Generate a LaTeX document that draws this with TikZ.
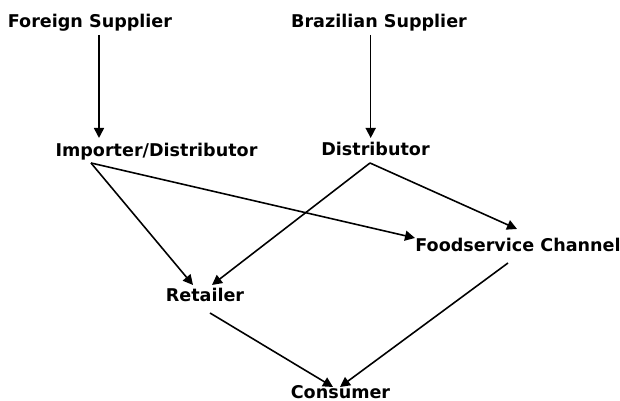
\documentclass[tikz,border=0pt]{standalone}
\usepackage{fontspec}
\setmainfont{DejaVu Sans}
\usetikzlibrary{arrows.meta}

\begin{document}
\begin{tikzpicture}[
    x=0.02cm, y=-0.02cm,
    actor/.style={inner sep=0pt, anchor=base, font=\bfseries\fontsize{10}{12}\selectfont},
    arr/.style={-{Triangle[length=2mm, width=2mm]}, line width=0.9pt}
]
    \useasboundingbox (0,0) rectangle (620,401);

    \node[actor] (fs) at (90,28) {Foreign Supplier};
    \node[actor] (bs) at (379,28) {Brazilian Supplier};
    \node[actor] (imp) at (156.5,157) {Importer/Distributor};
    \node[actor] (dist) at (375.5,156) {Distributor};
    \node[actor] (food) at (518,252) {Foodservice Channel};
    \node[actor] (ret) at (205,302) {Retailer};
    \node[actor] (con) at (340.5,399) {Consumer};

    \draw[arr] ([shift={(9,7)}]fs.base) -- ([shift={(-57.5,-19)}]imp.base);
    \draw[arr] ([shift={(-8.3,7)}]bs.base) -- ([shift={(-4.8,-18)}]dist.base);

    \draw[arr] ([shift={(-65.5,6)}]imp.base) -- ([shift={(-12,-17)}]ret.base);
    \draw[arr] ([shift={(-65.5,6)}]imp.base) -- ([shift={(-103,-14)}]food.base);
    \draw[arr] ([shift={(-5.5,7)}]dist.base) -- ([shift={(7,-17)}]ret.base);
    \draw[arr] ([shift={(-5.5,7)}]dist.base) -- ([shift={(-1,-23)}]food.base);

    \draw[arr] ([shift={(5,11)}]ret.base) -- ([shift={(-7.5,-12)}]con.base);
    \draw[arr] ([shift={(-10,11)}]food.base) -- ([shift={(-0.5,-12)}]con.base);
\end{tikzpicture}
\end{document}
